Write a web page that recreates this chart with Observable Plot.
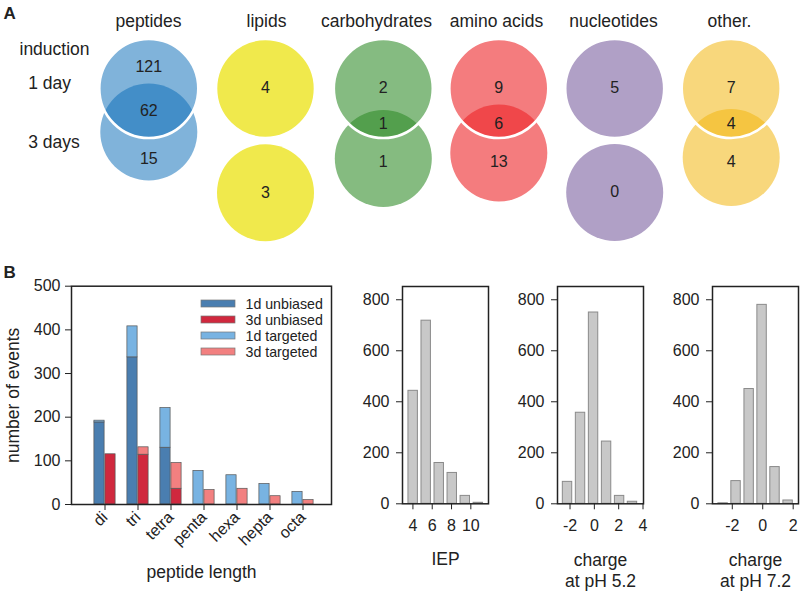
<!DOCTYPE html>
<html><head><meta charset="utf-8">
<script src="https://cdn.jsdelivr.net/npm/d3@7"></script>
<script src="https://cdn.jsdelivr.net/npm/@observablehq/plot@0.6"></script>
<style>
body{margin:0;background:#fff;}
#root{position:relative;width:800px;height:591px;overflow:hidden;font-family:"Liberation Sans",Arial,Helvetica,sans-serif;}
#root > *{position:absolute;}
</style></head><body><div id="root"></div>
<script>
// ---------- Panel A data ----------
const vennCategories = ["peptides","lipids","carbohydrates","amino acids","nucleotides","other."];
const day1Only = [121, 4, 2, 9, 5, 7];
const bothDays = [62, null, 1, 6, null, 4];
const day3Only = [15, 3, 1, 13, 0, 4];
const rowLabels = ["induction", "1 day", "3 days"];

// ---------- Panel B data ----------
const lengthCategories = ["di","tri","tetra","penta","hexa","hepta","octa"];
const seriesNames = ["1d unbiased","3d unbiased","1d targeted","3d targeted"];
const unbiased1d = [188, 337, 130, 0, 0, 0, 0];
const targeted1d = [4, 71, 91, 77, 67, 47, 29];
const unbiased3d = [115, 114, 36, 0, 0, 0, 0];
const targeted3d = [0, 17, 59, 33, 36, 19, 10];
const lengthTicksY = [0, 100, 200, 300, 400, 500];

const iepBinStart = [3.35, 4.70, 6.05, 7.40, 8.75, 10.10];
const iepBinWidth = 1.35;
const iepCounts = [443, 718, 160, 121, 31, 4];
const iepTicks = [4, 6, 8, 10];

const charge52BinStart = [-2.74, -1.67, -0.60, 0.47, 1.54, 2.60];
const charge52BinWidth = 1.068;
const charge52Counts = [86, 357, 750, 244, 31, 8];
const charge52Ticks = [-2, 0, 2, 4];

const charge72BinStart = [-3.03, -2.18, -1.32, -0.47, 0.38, 1.24];
const charge72BinWidth = 0.854;
const charge72Counts = [2, 89, 450, 780, 144, 13];
const charge72Ticks = [-2, 0, 2];
const histTicksY = [0, 200, 400, 600, 800];

// ---------- styling / layout ----------
const FONT = '"Liberation Sans", Arial, Helvetica, sans-serif';
const INK = "#222";
const vennLight = ["#80b3da","#f0e94c","#85bb80","#f47c7e","#b0a0c6","#f8d77c"];
const vennTop = ["rgba(9,108,183,0.516)","#f0e94c","rgba(48,140,40,0.59)","rgba(237,37,40,0.6)","#b0a0c6","rgba(242,182,17,0.55)"];
const vennLayout = {
  cx: [148.3, 265, 382.8, 498.3, 614.2, 730.7],
  titleX: [148, 266, 376, 496, 613, 729],
  topCy: 88,
  bottomCy: [131.5, 192.3, 158, 152.5, 192, 157],
  r: 48.5,
  topLabelY: [66, 87, 87, 87, 87, 87],
  midLabelY: [110, 0, 123.3, 123.3, 0, 123.3],
  bottomLabelY: [158, 192, 161, 161, 191, 161],
  rowLabelX: [19, 27.7, 27.7],
  rowLabelY: [49, 83, 142]
};
const seriesColors = ["#4a7eb0","#d0283e","#78b3e2","#f28080"];

const root = document.getElementById("root");
function place(el, left, top){ el.style.left = left + "px"; el.style.top = top + "px"; root.appendChild(el); }

// ---------- Panel A ----------
const circles = vennCategories.map((c, i) => ({
  c, cx: vennLayout.cx[i], topY: vennLayout.topCy, botY: vennLayout.bottomCy[i],
  light: vennLight[i], top: vennTop[i]
}));
const counts = [];
vennCategories.forEach((c, i) => {
  counts.push({x: vennLayout.cx[i], y: vennLayout.topLabelY[i], t: day1Only[i]});
  if (bothDays[i] != null) counts.push({x: vennLayout.cx[i], y: vennLayout.midLabelY[i], t: bothDays[i]});
  counts.push({x: vennLayout.cx[i], y: vennLayout.bottomLabelY[i], t: day3Only[i]});
});
const plotA = Plot.plot({
  width: 800, height: 250, margin: 0,
  x: {domain: [0, 800], range: [0, 800], axis: null},
  y: {domain: [0, 250], range: [0, 250], axis: null},
  r: {type: "identity"},
  color: {type: "identity"},
  style: {fontFamily: FONT, color: INK, background: "transparent", overflow: "visible"},
  marks: [
    Plot.dot(circles, {x: "cx", y: "botY", r: vennLayout.r, fill: "light"}),
    Plot.dot(circles, {x: "cx", y: "topY", r: vennLayout.r + 1, fill: "top"}),
    Plot.dot(circles, {x: "cx", y: "topY", r: vennLayout.r + 1, fill: "none", stroke: "white", strokeWidth: 2.6}),
    Plot.text(counts, {x: "x", y: "y", text: "t", fontSize: 16, fill: INK}),
    Plot.text(vennCategories, {x: (d, i) => vennLayout.titleX[i], y: 21, text: d => d, fontSize: 17.5, fill: INK}),
    Plot.text(rowLabels, {x: (d, i) => vennLayout.rowLabelX[i], y: (d, i) => vennLayout.rowLabelY[i], text: d => d, textAnchor: "start", fontSize: 17.5, fill: INK}),
    Plot.text(["A"], {x: 3, y: 13, text: d => d, textAnchor: "start", fontSize: 17, fontWeight: "bold", fill: INK})
  ]
});
place(plotA, 0, 0);

// ---------- Panel B: peptide length ----------
const rows1d = lengthCategories.flatMap((c, i) => [
  {cat: c, series: "1d unbiased", n: unbiased1d[i]},
  {cat: c, series: "1d targeted", n: targeted1d[i]}
]);
const rows3d = lengthCategories.flatMap((c, i) => [
  {cat: c, series: "3d unbiased", n: unbiased3d[i]},
  {cat: c, series: "3d targeted", n: targeted3d[i]}
]);
const plotB = Plot.plot({
  width: 345, height: 341,
  marginLeft: 71, marginRight: 14, marginTop: 35.7, marginBottom: 87,
  x: {type: "band", domain: lengthCategories, paddingInner: 0.674, paddingOuter: 0.69, align: 0.54},
  y: {domain: [0, 500]},
  color: {domain: seriesNames, range: seriesColors},
  style: {fontFamily: FONT, fontSize: "16px", color: INK, background: "transparent", overflow: "visible"},
  marks: [
    Plot.barY(rows1d, {x: "cat", y: "n", fill: "series", stroke: "#555", strokeWidth: 0.7, dx: -5.5, insetLeft: 0.4, insetRight: 0.4}),
    Plot.barY(rows3d, {x: "cat", y: "n", fill: "series", stroke: "#555", strokeWidth: 0.7, dx: 5.5, insetLeft: 0.4, insetRight: 0.4}),
    Plot.axisY({ticks: lengthTicksY, tickSize: 6, tickPadding: 5, label: null, fontSize: 16, stroke: INK}),
    Plot.axisX({tickSize: 6, tickPadding: 4, tickRotate: -45, label: null, fontSize: 16, stroke: INK}),
    Plot.frame({stroke: INK, strokeWidth: 1.5}),
    Plot.text(["number of events"], {frameAnchor: "left", dx: -58, rotate: -90, textAnchor: "middle", lineAnchor: "middle", fontSize: 17.5, fill: INK}),
    Plot.text(["peptide length"], {frameAnchor: "bottom", dy: 67.7, lineAnchor: "middle", fontSize: 17.5, fill: INK}),
    Plot.text(["B"], {frameAnchor: "top-left", dx: -68, dy: -14, textAnchor: "start", lineAnchor: "middle", fontSize: 17, fontWeight: "bold", fill: INK})
  ]
});
place(plotB, 0, 250);

// legend
const legend = Plot.plot({
  width: 150, height: 66, margin: 0,
  x: {domain: [0, 150], range: [0, 150], axis: null},
  y: {type: "band", domain: seriesNames, range: [0, 66], paddingInner: 0.58, paddingOuter: 0.29, axis: null},
  color: {domain: seriesNames, range: seriesColors},
  style: {fontFamily: FONT, color: INK, background: "transparent", overflow: "visible"},
  marks: [
    Plot.barX(seriesNames, {x1: 11, x2: 45, y: d => d, fill: d => d, stroke: "#777", strokeWidth: 0.7}),
    Plot.text(seriesNames, {x: 55, y: d => d, text: d => d, textAnchor: "start", fontSize: 14.2, fill: INK})
  ]
});
place(legend, 190, 293.5);

// ---------- Panel B: histograms ----------
function histogram(binStart, binWidth, countsArr, xDomain, xTicks, label, labelDy, left){
  const rows = binStart.map((lo, i) => ({lo, hi: lo + binWidth, n: countsArr[i]}));
  const p = Plot.plot({
    width: 146, height: 321,
    marginLeft: 52, marginRight: 8, marginTop: 16, marginBottom: 87.7,
    x: {domain: xDomain},
    y: {domain: [0, 852]},
    style: {fontFamily: FONT, fontSize: "16px", color: INK, background: "transparent", overflow: "visible"},
    marks: [
      Plot.rectY(rows, {x1: "lo", x2: "hi", y: "n", fill: "#c8c8c8", stroke: "#8a8a8a", strokeWidth: 1, insetLeft: 1.8, insetRight: 1.8}),
      Plot.axisY({ticks: histTicksY, tickSize: 6, tickPadding: 7, label: null, fontSize: 16, stroke: INK}),
      Plot.axisX({ticks: xTicks, tickFormat: d => String(d), tickSize: 6, tickPadding: 10, label: null, fontSize: 16, stroke: INK}),
      Plot.frame({stroke: INK, strokeWidth: 1.5}),
      Plot.text([label], {frameAnchor: "bottom", dy: labelDy, lineAnchor: "middle", fontSize: 17.5, lineHeight: 1.2, fill: INK})
    ]
  });
  place(p, left, 270);
}
histogram(iepBinStart, iepBinWidth, iepCounts, [2.92, 11.83], iepTicks, "IEP", 54.7, 350.3);
histogram(charge52BinStart, charge52BinWidth, charge52Counts, [-3.03, 4.04], charge52Ticks, "charge\nat pH 5.2", 66.2, 505);
histogram(charge72BinStart, charge72BinWidth, charge72Counts, [-3.30, 2.35], charge72Ticks, "charge\nat pH 7.2", 66.2, 659.7);
</script>
</body></html>
